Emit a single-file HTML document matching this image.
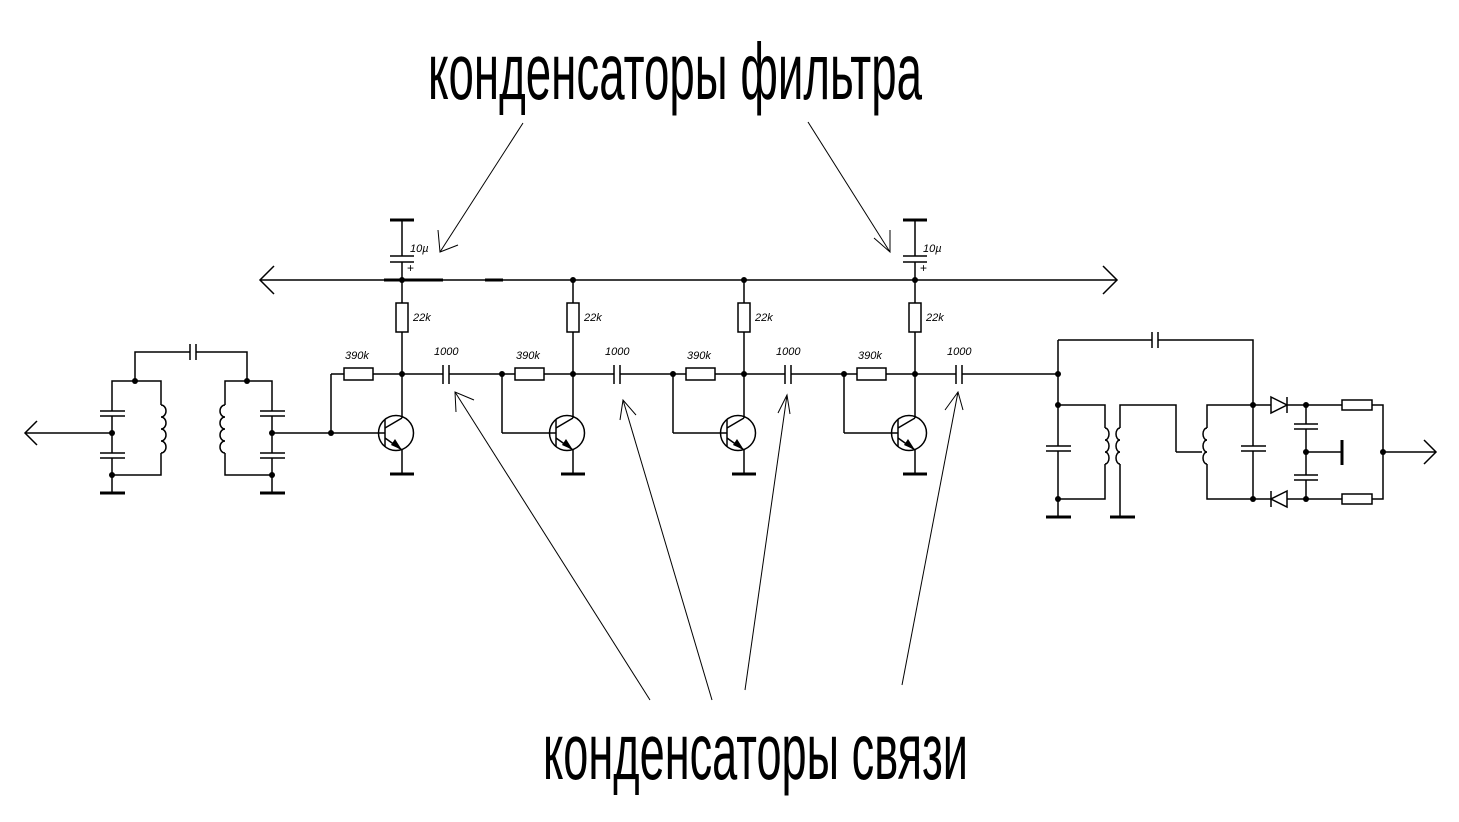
<!DOCTYPE html>
<html><head><meta charset="utf-8"><style>
html,body{margin:0;padding:0;background:#fff}
svg{display:block}
text{font-family:"Liberation Sans","DejaVu Sans",sans-serif}
.s{font-size:11px;font-style:italic}
</style></head><body>
<svg width="1459" height="822" viewBox="0 0 1459 822" xmlns="http://www.w3.org/2000/svg">
<g fill="none" stroke="#000" stroke-width="1.5">
<line x1="260" y1="280" x2="1117" y2="280"/>
<polyline points="274,266 260,280 274,294"/>
<polyline points="1103,266 1117,280 1103,294"/>
<line x1="384" y1="280" x2="443" y2="280" stroke-width="3"/>
<line x1="485" y1="280" x2="503" y2="280" stroke-width="3"/>
<g id="fc">
<line x1="390" y1="220" x2="414" y2="220" stroke-width="3"/>
<line x1="402" y1="220" x2="402" y2="256"/>
<line x1="390" y1="256" x2="414" y2="256"/>
<line x1="390" y1="262" x2="414" y2="262"/>
<line x1="402" y1="262" x2="402" y2="280"/>
</g>
<use href="#fc" x="513"/>
<g id="st">
<line x1="402" y1="280" x2="402" y2="303"/>
<rect x="396" y="303" width="12" height="29"/>
<line x1="402" y1="332" x2="402" y2="418"/>
<line x1="331" y1="374" x2="344" y2="374"/>
<rect x="344" y="368" width="29" height="12"/>
<line x1="373" y1="374" x2="443" y2="374"/>
<line x1="443" y1="365" x2="443" y2="384"/>
<line x1="449" y1="365" x2="449" y2="384"/>
<line x1="331" y1="374" x2="331" y2="433"/>
<line x1="331" y1="433" x2="385" y2="433"/>
<circle cx="396" cy="433" r="17.5"/>
<line x1="385" y1="420" x2="385" y2="447"/>
<line x1="385" y1="428" x2="402" y2="418"/>
<line x1="385" y1="438" x2="402" y2="450"/>
<line x1="402" y1="450" x2="402" y2="474"/>
<line x1="390" y1="474" x2="414" y2="474" stroke-width="3"/>
</g>
<use href="#st" x="171"/>
<use href="#st" x="342"/>
<use href="#st" x="513"/>
<line x1="449" y1="374" x2="502" y2="374"/>
<line x1="620" y1="374" x2="673" y2="374"/>
<line x1="791" y1="374" x2="844" y2="374"/>
<line x1="962" y1="374" x2="1058" y2="374"/>
<line x1="25" y1="433" x2="112" y2="433"/>
<polyline points="37,421 25,433 37,445"/>
<polyline points="112,411 112,381 161,381 161,405"/>
<path d="M161,405 a5,6 0 0 1 0,12 a5,6 0 0 1 0,12 a5,6 0 0 1 0,12 a5,6 0 0 1 0,12"/>
<polyline points="161,453 161,475 112,475"/>
<line x1="100" y1="411" x2="125" y2="411"/><line x1="100" y1="416" x2="125" y2="416"/>
<line x1="112" y1="416" x2="112" y2="453"/>
<line x1="100" y1="453" x2="125" y2="453"/><line x1="100" y1="458" x2="125" y2="458"/>
<line x1="112" y1="458" x2="112" y2="493"/>
<line x1="100" y1="493" x2="125" y2="493" stroke-width="3"/>
<polyline points="135,381 135,352 190,352"/>
<line x1="190" y1="344" x2="190" y2="360"/><line x1="196" y1="344" x2="196" y2="360"/>
<polyline points="196,352 247,352 247,381"/>
<polyline points="272,411 272,381 225,381 225,405"/>
<path d="M225,405 a5,6 0 0 0 0,12 a5,6 0 0 0 0,12 a5,6 0 0 0 0,12 a5,6 0 0 0 0,12"/>
<polyline points="225,453 225,475 272,475"/>
<line x1="260" y1="411" x2="285" y2="411"/><line x1="260" y1="416" x2="285" y2="416"/>
<line x1="272" y1="416" x2="272" y2="453"/>
<line x1="260" y1="453" x2="285" y2="453"/><line x1="260" y1="458" x2="285" y2="458"/>
<line x1="272" y1="458" x2="272" y2="493"/>
<line x1="260" y1="493" x2="285" y2="493" stroke-width="3"/>
<line x1="272" y1="433" x2="331" y2="433"/>
<polyline points="1058,340 1152,340"/>
<line x1="1152" y1="332" x2="1152" y2="348"/><line x1="1158" y1="332" x2="1158" y2="348"/>
<polyline points="1158,340 1253,340 1253,446"/>
<line x1="1058" y1="340" x2="1058" y2="446"/>
<line x1="1046" y1="446" x2="1071" y2="446"/><line x1="1046" y1="451" x2="1071" y2="451"/>
<line x1="1058" y1="451" x2="1058" y2="517"/>
<line x1="1046" y1="517" x2="1071" y2="517" stroke-width="3"/>
<polyline points="1058,405 1105,405 1105,428"/>
<path d="M1105,428 a4,6 0 0 1 0,12 a4,6 0 0 1 0,12 a4,6 0 0 1 0,12"/>
<polyline points="1105,464 1105,499 1058,499"/>
<polyline points="1176,452 1176,405 1120,405 1120,428"/>
<path d="M1120,428 a4,6 0 0 0 0,12 a4,6 0 0 0 0,12 a4,6 0 0 0 0,12"/>
<line x1="1120" y1="464" x2="1120" y2="517"/>
<line x1="1110" y1="517" x2="1135" y2="517" stroke-width="3"/>
<line x1="1176" y1="452" x2="1202" y2="452"/>
<polyline points="1253,405 1207,405 1207,428"/>
<path d="M1207,428 a4,6 0 0 0 0,12 a4,6 0 0 0 0,12 a4,6 0 0 0 0,12"/>
<polyline points="1207,464 1207,499 1271,499"/>
<line x1="1241" y1="446" x2="1266" y2="446"/><line x1="1241" y1="451" x2="1266" y2="451"/>
<line x1="1253" y1="451" x2="1253" y2="499"/>
<line x1="1253" y1="405" x2="1271" y2="405"/>
<polygon points="1271,397 1287,405 1271,413"/><line x1="1287" y1="397" x2="1287" y2="413"/>
<polygon points="1287,491 1271,499 1287,507"/><line x1="1271" y1="491" x2="1271" y2="507"/>
<line x1="1287" y1="405" x2="1342" y2="405"/>
<line x1="1287" y1="499" x2="1342" y2="499"/>
<rect x="1342" y="400" width="30" height="10"/>
<rect x="1342" y="494" width="30" height="10"/>
<polyline points="1372,405 1383,405 1383,499 1372,499"/>
<line x1="1306" y1="405" x2="1306" y2="424"/>
<line x1="1294" y1="424" x2="1318" y2="424"/><line x1="1294" y1="429" x2="1318" y2="429"/>
<line x1="1306" y1="429" x2="1306" y2="475"/>
<line x1="1294" y1="475" x2="1318" y2="475"/><line x1="1294" y1="480" x2="1318" y2="480"/>
<line x1="1306" y1="480" x2="1306" y2="499"/>
<line x1="1306" y1="452" x2="1342" y2="452"/>
<line x1="1342" y1="440" x2="1342" y2="465" stroke-width="3"/>
<line x1="1383" y1="452" x2="1436" y2="452"/>
<polyline points="1424,440 1436,452 1424,464"/>
<g stroke-width="1">
<line x1="523" y1="123" x2="440" y2="252"/><polyline points="438,230 440,252 458,245"/>
<line x1="808" y1="122" x2="890" y2="252"/><polyline points="874,238 890,252 890,230"/>
<line x1="650" y1="700" x2="455" y2="392"/><polyline points="456,412 455,392 474,400"/>
<line x1="712" y1="700" x2="623" y2="400"/><polyline points="620,420 623,400 636,415"/>
<line x1="745" y1="690" x2="787" y2="395"/><polyline points="778,413 787,395 790,414"/>
<line x1="902" y1="685" x2="958" y2="392"/><polyline points="945,410 958,392 963,410"/>
</g>
</g>
<g fill="#000">
<circle cx="402" cy="280" r="3"/><circle cx="573" cy="280" r="3"/><circle cx="744" cy="280" r="3"/><circle cx="915" cy="280" r="3"/>
<circle cx="402" cy="374" r="3"/><circle cx="573" cy="374" r="3"/><circle cx="744" cy="374" r="3"/><circle cx="915" cy="374" r="3"/>
<circle cx="502" cy="374" r="3"/><circle cx="673" cy="374" r="3"/><circle cx="844" cy="374" r="3"/><circle cx="331" cy="433" r="3"/>
<circle cx="135" cy="381" r="3"/><circle cx="247" cy="381" r="3"/><circle cx="112" cy="433" r="3"/><circle cx="272" cy="433" r="3"/>
<circle cx="112" cy="475" r="3"/><circle cx="272" cy="475" r="3"/>
<circle cx="1058" cy="374" r="3"/><circle cx="1058" cy="405" r="3"/><circle cx="1058" cy="499" r="3"/>
<circle cx="1253" cy="405" r="3"/><circle cx="1253" cy="499" r="3"/>
<circle cx="1306" cy="405" r="3"/><circle cx="1306" cy="452" r="3"/><circle cx="1306" cy="499" r="3"/><circle cx="1383" cy="452" r="3"/>
<polygon points="402,450 391,445 395,439"/><polygon points="573,450 562,445 566,439"/><polygon points="744,450 733,445 737,439"/><polygon points="915,450 904,445 908,439"/>
</g>
<g fill="#000">
<text class="s" x="410" y="252">10µ</text><text x="407" y="272" font-size="12">+</text>
<text class="s" x="923" y="252">10µ</text><text x="920" y="272" font-size="12">+</text>
<text class="s" x="413" y="321">22k</text><text class="s" x="584" y="321">22k</text><text class="s" x="755" y="321">22k</text><text class="s" x="926" y="321">22k</text>
<text class="s" x="345" y="359">390k</text><text class="s" x="516" y="359">390k</text><text class="s" x="687" y="359">390k</text><text class="s" x="858" y="359">390k</text>
<text class="s" x="434" y="355">1000</text><text class="s" x="605" y="355">1000</text><text class="s" x="776" y="355">1000</text><text class="s" x="947" y="355">1000</text>
<text x="428" y="99" font-size="80" textLength="494" lengthAdjust="spacingAndGlyphs">конденсаторы фильтра</text>
<text x="543" y="779" font-size="80" textLength="425" lengthAdjust="spacingAndGlyphs">конденсаторы связи</text>
</g>
</svg>
</body></html>
